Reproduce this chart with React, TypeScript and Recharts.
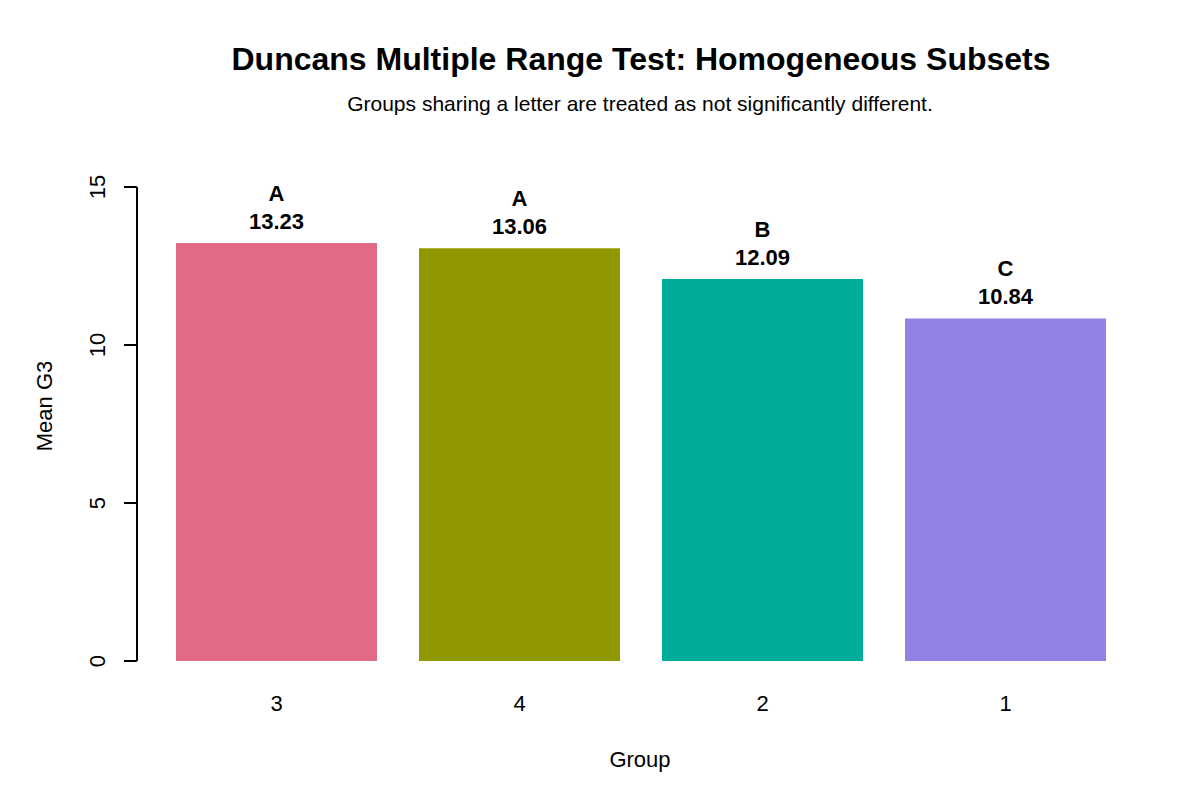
import React from "react";
import { BarChart, Bar, XAxis, YAxis, Cell, LabelList } from "recharts";

const groups = ["3", "4", "2", "1"];
const means = [13.23, 13.06, 12.09, 10.84];
const letters = ["A", "A", "B", "C"];
const colors = ["#E16A86", "#909800", "#00AD9A", "#9183E6"];
const yTicks = [0, 5, 10, 15];

const data = groups.map((g, i) => ({ group: g, mean: means[i], letter: letters[i] }));

const FONT = "'Liberation Sans', Arial, Helvetica, sans-serif";

const YTick = (props: any) => {
  const { x, y, payload } = props;
  return (
    <text
      x={x}
      y={y}
      transform={`rotate(-90, ${x}, ${y})`}
      textAnchor="middle"
      fontFamily={FONT}
      fontSize={22}
      fill="#000"
    >
      {payload.value}
    </text>
  );
};

const XTick = (props: any) => {
  const { x, y, payload } = props;
  return (
    <text x={x} y={y} dy="0.36em" textAnchor="middle" fontFamily={FONT} fontSize={22} fill="#000">
      {payload.value}
    </text>
  );
};

const BarLabel = (props: any) => {
  const { x, y, width, value, index } = props;
  const cx = x + width / 2;
  return (
    <g>
      <text x={cx} y={y - 50} dy="0.36em" textAnchor="middle" fontFamily={FONT} fontSize={22} fontWeight="bold" fill="#000">
        {letters[index]}
      </text>
      <text x={cx} y={y - 22} dy="0.36em" textAnchor="middle" fontFamily={FONT} fontSize={22} fontWeight="bold" fill="#000">
        {Number(value).toFixed(2)}
      </text>
    </g>
  );
};

export default function App() {
  return (
    <div style={{ position: "absolute", left: 0, top: 0, width: 1200, height: 800, background: "#fff" }}>
      <BarChart
        width={1200}
        height={800}
        data={data}
        margin={{ top: 187, right: 73, bottom: 79, left: 77 }}
      >
        <XAxis
          dataKey="group"
          axisLine={false}
          tickLine={false}
          tickSize={0}
          tickMargin={42}
          height={60}
          padding={{ left: 18, right: 0 }}
          tick={<XTick />}
          interval={0}
        />
        <YAxis
          type="number"
          domain={[0, 15]}
          ticks={yTicks}
          width={60}
          stroke="#000"
          axisLine={{ stroke: "#000", strokeWidth: 1.3, shapeRendering: "crispEdges" }}
          tickLine={{ stroke: "#000", strokeWidth: 1.3, shapeRendering: "crispEdges" }}
          tickSize={13}
          tickMargin={19}
          tick={<YTick />}
          interval={0}
        />
        <Bar dataKey="mean" barSize={201} isAnimationActive={false}>
          {data.map((d, i) => (
            <Cell key={d.group} fill={colors[i]} />
          ))}
          <LabelList dataKey="mean" content={<BarLabel />} />
        </Bar>
      </BarChart>
      <svg
        width={1200}
        height={800}
        style={{ position: "absolute", left: 0, top: 0, pointerEvents: "none" }}
      >
        <text x={641} y={70} textAnchor="middle" fontFamily={FONT} fontSize={32} fontWeight="bold" fill="#000">
          Duncans Multiple Range Test: Homogeneous Subsets
        </text>
        <text x={640} y={111} textAnchor="middle" fontFamily={FONT} fontSize={21} fill="#000">
          Groups sharing a letter are treated as not significantly different.
        </text>
        <text x={640} y={767} textAnchor="middle" fontFamily={FONT} fontSize={22} fill="#000">
          Group
        </text>
        <text
          x={52}
          y={406}
          transform="rotate(-90, 52, 406)"
          textAnchor="middle"
          fontFamily={FONT}
          fontSize={22}
          fill="#000"
        >
          Mean G3
        </text>
      </svg>
    </div>
  );
}
